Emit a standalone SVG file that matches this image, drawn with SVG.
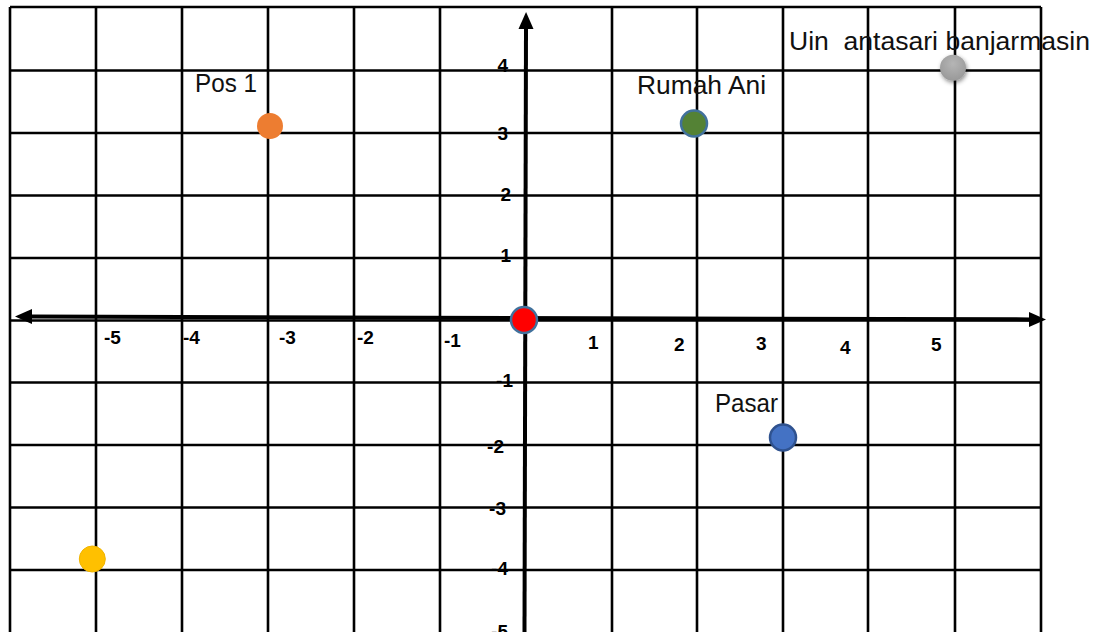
<svg xmlns="http://www.w3.org/2000/svg" width="1108" height="632" viewBox="0 0 1108 632">
<style>
.grid line{stroke:#000;stroke-width:2.6}
.axis{stroke:#000;stroke-width:4;fill:none}
.num{font-family:"Liberation Sans",Arial,sans-serif;font-weight:bold;font-size:19px;fill:#000}
.lbl{font-family:"Liberation Sans",Arial,sans-serif;font-size:25px;fill:#111;white-space:pre}
</style>
<defs>
<marker id="ah" markerUnits="userSpaceOnUse" markerWidth="18" markerHeight="16" refX="1" refY="8" orient="auto-start-reverse">
<path d="M0,0.5 L17,8 L0,15.5 z" fill="#000"/>
</marker>
<filter id="sh" x="-50%" y="-50%" width="200%" height="200%">
<feDropShadow dx="1" dy="2" stdDeviation="2" flood-color="#000" flood-opacity="0.45"/>
</filter>
<radialGradient id="gg" cx="50%" cy="35%" r="65%">
<stop offset="0" stop-color="#b5b5b5"/><stop offset="1" stop-color="#999"/>
</radialGradient>
</defs>
<rect width="1108" height="632" fill="#fff"/>
<g id="grid" class="grid">
<line x1="10" y1="7" x2="10" y2="632"/>
<line x1="96" y1="7" x2="96" y2="632"/>
<line x1="182" y1="7" x2="182" y2="632"/>
<line x1="268" y1="7" x2="268" y2="632"/>
<line x1="354" y1="7" x2="354" y2="632"/>
<line x1="440" y1="7" x2="440" y2="632"/>
<line x1="612" y1="7" x2="612" y2="632"/>
<line x1="697" y1="7" x2="697" y2="632"/>
<line x1="783" y1="7" x2="783" y2="632"/>
<line x1="868" y1="7" x2="868" y2="632"/>
<line x1="955" y1="7" x2="955" y2="632"/>
<line x1="1041" y1="7" x2="1041" y2="632"/>
<line x1="10" y1="7" x2="1041" y2="7"/>
<line x1="10" y1="70.5" x2="1041" y2="70.5"/>
<line x1="10" y1="133" x2="1041" y2="133"/>
<line x1="10" y1="195.5" x2="1041" y2="195.5"/>
<line x1="10" y1="258" x2="1041" y2="258"/>
<line x1="10" y1="320.5" x2="1041" y2="320.5"/>
<line x1="10" y1="382.5" x2="1041" y2="382.5"/>
<line x1="10" y1="445" x2="1041" y2="445"/>
<line x1="10" y1="507.5" x2="1041" y2="507.5"/>
<line x1="10" y1="570" x2="1041" y2="570"/>
</g>
<g id="connectors">
<line class="axis" x1="31" y1="316.6" x2="1030" y2="319.4" marker-start="url(#ah)" marker-end="url(#ah)"/>
<line class="axis" x1="524.5" y1="632" x2="526" y2="28" marker-end="url(#ah)"/>
</g>
<g id="y-labels">
<text class="num" x="508" y="72" text-anchor="end">4</text>
<text class="num" x="508" y="140" text-anchor="end">3</text>
<text class="num" x="511" y="200.5" text-anchor="end">2</text>
<text class="num" x="511" y="261.5" text-anchor="end">1</text>
<text class="num" x="513" y="386.5" text-anchor="end">-1</text>
<text class="num" x="504" y="452.5" text-anchor="end">-2</text>
<text class="num" x="506" y="515" text-anchor="end">-3</text>
<text class="num" x="508" y="575" text-anchor="end">-4</text>
<text class="num" x="508" y="638" text-anchor="end">-5</text>
</g>
<g id="x-labels">
<text class="num" x="104" y="343.5">-5</text>
<text class="num" x="183" y="344">-4</text>
<text class="num" x="279" y="344">-3</text>
<text class="num" x="357" y="344">-2</text>
<text class="num" x="444" y="347">-1</text>
<text class="num" x="588" y="349">1</text>
<text class="num" x="674" y="351">2</text>
<text class="num" x="756" y="349.5">3</text>
<text class="num" x="840" y="353.5">4</text>
<text class="num" x="931" y="351">5</text>
</g>
<g id="origin">
<circle cx="524" cy="320" r="13" fill="#ff0000" stroke="#41719c" stroke-width="2.5"/>
</g>
<g id="pos1">
<text class="lbl" x="195" y="92" textLength="62" lengthAdjust="spacingAndGlyphs">Pos 1</text>
<circle cx="270" cy="126" r="13" fill="#ed7d31"/>
</g>
<g id="rumah-ani">
<text class="lbl" x="637" y="94" textLength="129" lengthAdjust="spacingAndGlyphs">Rumah Ani</text>
<circle cx="694" cy="123.5" r="13" fill="#548235" stroke="#41719c" stroke-width="2.5"/>
</g>
<g id="uin">
<text class="lbl" x="789" y="49.5" textLength="301" lengthAdjust="spacingAndGlyphs" xml:space="preserve">Uin  antasari banjarmasin</text>
<circle cx="953" cy="67.7" r="13" fill="url(#gg)" filter="url(#sh)"/>
</g>
<g id="pasar">
<text class="lbl" x="715" y="411.5" textLength="63" lengthAdjust="spacingAndGlyphs">Pasar</text>
<circle cx="783" cy="437.5" r="13" fill="#4472c4" stroke="#2f528f" stroke-width="2.5"/>
</g>
<g id="yellow-point">
<circle cx="92.3" cy="559" r="13" fill="#ffc000" stroke="#f0b400" stroke-width="1"/>
</g>
</svg>
